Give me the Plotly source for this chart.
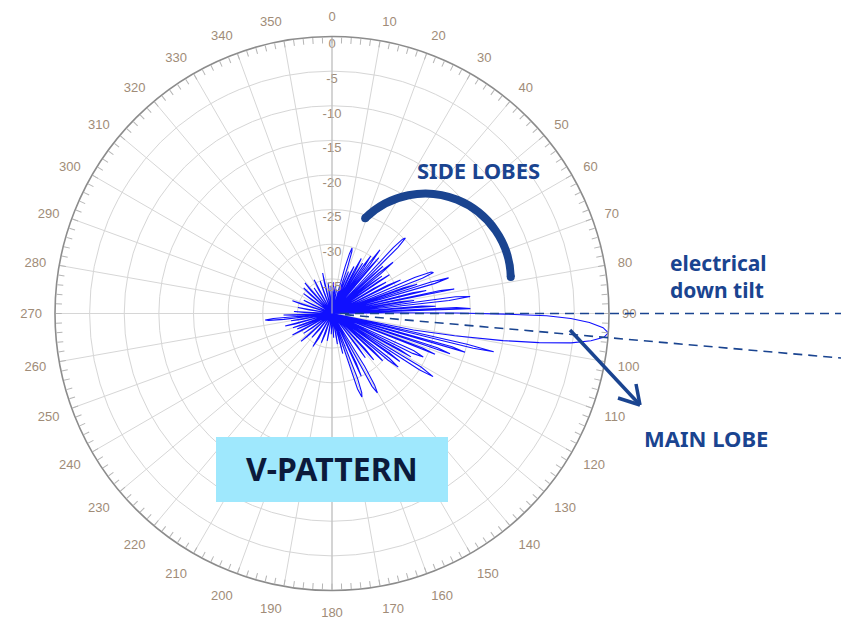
import math
import plotly.graph_objects as go

W, H = 841, 619

# ---------------- data ----------------
pattern_theta = [
    0, 1.5, 3, 4,
    6, 7, 8,
    10, 11, 12,
    15, 15.6, 16.3, 17, 17.8, 18.6, 19.2,
    20.5, 21.5, 22.5,
    24, 25, 26,
    27.3, 28, 28.8, 29.5,
    30.5, 31.3, 32.2,
    33.2, 34, 34.8, 35.6,
    36.3, 37, 37.8, 38.5,
    39.3, 40, 40.8,
    42.3, 42.9, 43.5, 44.2, 44.9, 45.5,
    46.5, 47.2, 48,
    49.2, 50, 50.8, 51.6,
    52.5, 53.2, 54,
    55.2, 56, 56.8,
    59, 60, 61,
    63, 64, 65,
    66.5, 67.3, 68, 68.7, 69.5,
    70.3, 71, 71.7,
    72.3, 73, 73.7, 74.5,
    75.5, 76.3, 77,
    78, 78.7, 79.4,
    80.3, 81, 81.7,
    82.3, 83, 83.7, 84.5,
    85.3, 86, 86.7,
    87.3, 88, 88.6,
    89.3, 89.8, 90.2, 90.6, 91.2, 92, 93, 94, 95, 96, 97, 98, 99, 100.3, 101.5, 102.3,
    102.8, 103.3, 103.8, 104.5,
    105.5, 106.2, 107,
    108, 108.8, 109.6,
    110.8, 111.6, 112.4,
    114.5, 115.5, 116.3, 117,
    118, 118.8, 119.6,
    121, 122, 122.8, 123.6,
    124.5, 125.3, 126,
    128, 129, 129.8, 130.6,
    132, 133, 134,
    137, 138, 139,
    142, 143, 144,
    147.5, 148.3, 149.2, 150.2, 151.2, 152.2,
    154, 155, 156,
    157.5, 158.5, 159.4, 160.3, 161.3, 162.3,
    164, 165, 166,
    169, 170, 171,
    175, 176, 177,
    181, 182, 183,
    188, 190, 191.5,
    198, 200, 201.5,
    208, 210, 211.5,
    218, 220, 221.5,
    227, 228, 229,
    234, 235, 236,
    240.5, 241.5, 242.5,
    245, 246, 247,
    249, 250, 251,
    254, 255, 256,
    259, 260, 261,
    263, 263.8, 264.5, 265.2, 266,
    267.5, 268.3, 269,
    272, 273, 274,
    279, 280, 281,
    287, 288, 289,
    294, 295, 296,
    304, 305, 306,
    311, 312, 313,
    317.5, 318.5, 319.5,
    324, 325, 326,
    331, 332, 333,
    339, 340, 341,
    346, 347, 348,
    352, 353, 354,
    357, 358, 359, 360,
]

pattern_db = [
    -40, -37, -35.5, -40,
    -37, -36, -40,
    -38, -36.5, -40,
    -40, -33, -31, -30.1, -30.6, -33, -40,
    -36, -33.5, -40,
    -34, -32.5, -40,
    -33, -31, -33, -40,
    -33.5, -31.5, -40,
    -32, -30, -32, -40,
    -31, -28.5, -31, -40,
    -31.5, -29.5, -40,
    -40, -27, -25.2, -24.8, -26.5, -40,
    -32, -30, -40,
    -31, -28.5, -31, -40,
    -33, -31, -40,
    -32, -30, -40,
    -33, -31, -40,
    -31, -29, -40,
    -27, -24.5, -24.2, -26, -40,
    -29, -27, -40,
    -25, -22.4, -24.5, -40,
    -28, -26, -40,
    -24, -22, -40,
    -30, -28, -40,
    -22, -19.9, -23, -40,
    -27, -25, -40,
    -22, -20, -40,
    -32, -22, -15, -9, -5.5, -2.8, -0.8, 0, -0.6, -2.4, -5.2, -9.8, -15, -22, -28, -40,
    -20, -16, -19, -40,
    -22, -20, -40,
    -24, -22, -40,
    -26, -24, -40,
    -27, -25.4, -27, -40,
    -29, -27, -40,
    -25, -22.8, -25, -40,
    -30, -28, -40,
    -29.5, -27.7, -29.5, -40,
    -32, -30, -40,
    -33, -31, -40,
    -34, -32, -40,
    -40, -31, -28, -26.8, -28, -40,
    -32, -30, -40,
    -40, -30, -27.8, -27.2, -28.5, -40,
    -36, -34, -40,
    -37, -35.5, -40,
    -38, -36.5, -40,
    -38, -37, -40,
    -38, -36, -40,
    -37, -35.5, -40,
    -36, -34.5, -40,
    -37, -35.5, -40,
    -35.5, -34, -40,
    -36.5, -35, -40,
    -35, -33.5, -40,
    -36, -34.5, -40,
    -35.5, -34, -40,
    -34.5, -33, -40,
    -35.5, -34, -40,
    -33, -30.8, -30.3, -31.5, -40,
    -34.5, -33, -40,
    -36, -34.5, -40,
    -36.5, -35, -40,
    -35.5, -34, -40,
    -37, -35.5, -40,
    -36.5, -35, -40,
    -36, -34.5, -40,
    -35.5, -34.1, -40,
    -37, -35.5, -40,
    -36, -34.5, -40,
    -36.5, -35, -40,
    -35.5, -34, -40,
    -37, -35.5, -40,
    -37.5, -36, -40, -40,
]

angle_ticks = list(range(0, 360, 10))
angle_labels = [str(a) for a in angle_ticks]
minor_angle_ticks = list(range(0, 360, 2))
radial_ticks = [0, -5, -10, -15, -20, -25, -30, -35]
radial_labels = [str(v) for v in radial_ticks]
radial_range = [-40, 0]

# ---------------- styling ----------------
LABEL_COLOR = "#a08c78"
GRID = "#d6d6d6"
NAVY = "#1a4490"
FONT_LBL = "Liberation Sans, Arial, sans-serif"
FONT_ANN = "Noto Sans, Open Sans, sans-serif"

# polar placement (pixels)
CX, CY, R = 332, 313.5, 277


def px(x):
    return x / W


def py(y):
    return 1 - y / H


dom_x = [px(CX - R), px(CX + R)]
dom_y = [py(CY + R), py(CY - R)]

fig = go.Figure()

# vertical line at 180 (continuation of the radial axis)
fig.add_trace(go.Scatterpolar(
    theta=[180, 180], r=radial_range, mode="lines",
    line=dict(color="#bdbdbd", width=1), hoverinfo="skip", showlegend=False,
    subplot="polar"))

# antenna pattern
fig.add_trace(go.Scatterpolar(
    theta=pattern_theta, r=pattern_db, mode="lines",
    line=dict(color="#1010ff", width=1.1), showlegend=False, subplot="polar"))

# radial tick labels along the 0 degree line (nudged slightly inward)
label_r = [v - 0.3 for v in radial_ticks]
fig.add_trace(go.Scatterpolar(
    theta=[0] * len(radial_ticks), r=label_r, mode="text",
    text=radial_labels, textposition="bottom center",
    textfont=dict(family=FONT_LBL, size=13, color=LABEL_COLOR),
    hoverinfo="skip", showlegend=False, subplot="polar"))

# dummy trace for the tick-ring subplot
fig.add_trace(go.Scatterpolar(
    theta=[0], r=[-40], mode="markers", marker=dict(opacity=0),
    hoverinfo="skip", showlegend=False, subplot="polar2"))

fig.update_layout(
    width=W, height=H,
    margin=dict(l=0, r=0, t=0, b=0),
    paper_bgcolor="white",
    plot_bgcolor="white",
    polar=dict(
        domain=dict(x=dom_x, y=dom_y),
        bgcolor="white",
        angularaxis=dict(
            rotation=90, direction="clockwise",
            tickmode="array", tickvals=angle_ticks, ticktext=angle_labels,
            ticks="outside", ticklen=10, tickcolor="rgba(0,0,0,0)",
            tickfont=dict(family=FONT_LBL, size=13, color=LABEL_COLOR),
            showgrid=True, gridcolor=GRID, gridwidth=1,
            showline=False,
        ),
        radialaxis=dict(
            range=radial_range, tickmode="array", tickvals=radial_ticks + [-40],
            showticklabels=False, ticks="",
            showgrid=True, gridcolor=GRID, gridwidth=1,
            showline=True, linecolor="#bdbdbd", linewidth=1, angle=90,
        ),
    ),
    polar2=dict(
        domain=dict(x=dom_x, y=dom_y),
        bgcolor="rgba(0,0,0,0)",
        angularaxis=dict(
            rotation=90, direction="clockwise",
            tickmode="array", tickvals=minor_angle_ticks,
            ticks="inside", ticklen=6, tickcolor="#b5b5b5", tickwidth=1,
            showticklabels=False, showgrid=False,
            showline=True, linecolor="#8c8c8c", linewidth=1.6,
        ),
        radialaxis=dict(range=radial_range, visible=False),
    ),
)

# ---------------- annotations & shapes ----------------
shapes = []

# dashed "electrical down tilt" lines
tilt = math.radians(5.0)
shapes.append(dict(type="line", xref="paper", yref="paper",
                   x0=px(340), y0=py(CY), x1=px(W), y1=py(CY),
                   line=dict(color=NAVY, width=1.6, dash="9px,6px")))
x_start = 345
shapes.append(dict(type="line", xref="paper", yref="paper",
                   x0=px(x_start), y0=py(CY + (x_start - CX) * math.tan(tilt)),
                   x1=px(W), y1=py(CY + (W - CX) * math.tan(tilt)),
                   line=dict(color=NAVY, width=1.6, dash="9px,6px")))

# side-lobe arc (thick, rounded ends)
acx, acy, ar = 425.2, 279.2, 85.6
a0 = math.atan2(218 - acy, 365 - acx)
a1 = math.atan2(277 - acy, 511 - acx)
nseg = 4
step = (a1 - a0) / nseg
k = 4 / 3 * math.tan(step / 4)
path = "M {:.5f},{:.5f}".format(px(acx + ar * math.cos(a0)), py(acy + ar * math.sin(a0)))
for i in range(nseg):
    t0 = a0 + i * step
    t1 = t0 + step
    p0 = (acx + ar * math.cos(t0), acy + ar * math.sin(t0))
    p3 = (acx + ar * math.cos(t1), acy + ar * math.sin(t1))
    c1 = (p0[0] - k * ar * math.sin(t0), p0[1] + k * ar * math.cos(t0))
    c2 = (p3[0] + k * ar * math.sin(t1), p3[1] - k * ar * math.cos(t1))
    path += " C {:.5f},{:.5f} {:.5f},{:.5f} {:.5f},{:.5f}".format(
        px(c1[0]), py(c1[1]), px(c2[0]), py(c2[1]), px(p3[0]), py(p3[1]))
ARC_W = 8
shapes.append(dict(type="path", xref="paper", yref="paper", path=path,
                   line=dict(color=NAVY, width=ARC_W)))
for ang in (a0, a1):
    ex, ey = acx + ar * math.cos(ang), acy + ar * math.sin(ang)
    rr = ARC_W / 2
    shapes.append(dict(type="circle", xref="paper", yref="paper",
                       x0=px(ex - rr), x1=px(ex + rr), y0=py(ey + rr), y1=py(ey - rr),
                       fillcolor=NAVY, line=dict(width=0)))

# main-lobe arrow
tip = (640, 405)
shapes.append(dict(type="line", xref="paper", yref="paper",
                   x0=px(570), y0=py(330), x1=px(tip[0]), y1=py(tip[1]),
                   line=dict(color=NAVY, width=3.5)))
for ex, ey in ((618, 398), (636, 384)):
    shapes.append(dict(type="line", xref="paper", yref="paper",
                       x0=px(tip[0]), y0=py(tip[1]), x1=px(ex), y1=py(ey),
                       line=dict(color=NAVY, width=3.5)))

# V-PATTERN box
shapes.append(dict(type="rect", xref="paper", yref="paper",
                   x0=px(216), x1=px(448), y0=py(502), y1=py(437),
                   fillcolor="#9fe8fd", line=dict(width=0)))

fig.update_layout(shapes=shapes)

annotations = [
    dict(text="<b>SIDE LOBES</b>", x=px(478), y=py(170), xref="paper", yref="paper",
         showarrow=False, xanchor="center", yanchor="middle",
         font=dict(family=FONT_ANN, size=22, color=NAVY)),
    dict(text="<b>electrical<br>down tilt</b>", x=px(668), y=py(276), xref="paper", yref="paper",
         showarrow=False, xanchor="left", yanchor="middle", align="left",
         font=dict(family=FONT_ANN, size=21, color=NAVY)),
    dict(text="<b>MAIN LOBE</b>", x=px(706), y=py(438), xref="paper", yref="paper",
         showarrow=False, xanchor="center", yanchor="middle",
         font=dict(family=FONT_ANN, size=22, color=NAVY)),
    dict(text="<b>V-PATTERN</b>", x=px(332), y=py(468), xref="paper", yref="paper",
         showarrow=False, xanchor="center", yanchor="middle",
         font=dict(family=FONT_ANN, size=32, color="#0b1a3b")),
]
fig.update_layout(annotations=annotations)

fig.write_html("out.html", config={"displayModeBar": False},
               post_script="document.body.style.margin='0';document.body.style.overflow='hidden';")
